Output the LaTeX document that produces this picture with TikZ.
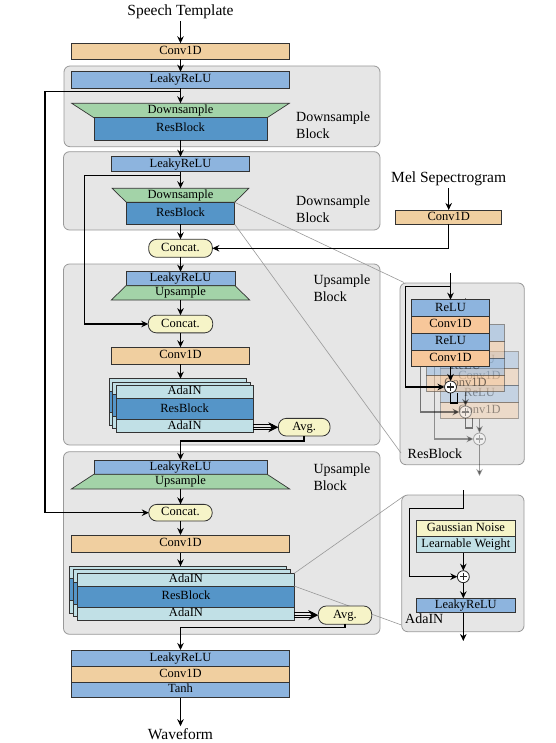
\documentclass[tikz,border=0pt]{standalone}
\usepackage{fontspec}
\setmainfont{Liberation Serif}
\usetikzlibrary{arrows.meta}
\usetikzlibrary{positioning}

\definecolor{convc}{RGB}{240,207,160}
\definecolor{relc}{RGB}{141,180,222}
\definecolor{sampc}{RGB}{163,211,168}
\definecolor{resc}{RGB}{85,149,200}
\definecolor{adac}{RGB}{193,224,230}
\definecolor{pillc}{RGB}{246,244,200}
\definecolor{panelc}{RGB}{230,230,230}
\definecolor{rconvc}{RGB}{247,199,154}

\tikzset{
  box/.style={draw=black!80,line width=0.7pt,inner sep=0pt,outer sep=0pt,text height=8.5pt,text depth=2.5pt,font=\fontsize{12.5}{14}\selectfont},
  colw/.style={minimum width=217.6pt},
  ada/.style={box,fill=adac,minimum height=12.5pt},
  resb/.style={box,fill=resc,minimum height=21.6pt},
  rbox/.style={box,minimum width=77.6pt,minimum height=16.75pt},
  samp/.style={draw=black!80,line width=0.7pt,fill=sampc},
  pill/.style={box,line width=0.8pt,fill=pillc,rounded corners=8pt},
  panel/.style={fill=panelc,draw=black!40,line width=0.8pt,rounded corners=6pt},
  zoomln/.style={draw=black!40,line width=0.6pt},
  arr/.style={line width=1.5pt,-{Stealth[length=7pt,width=6.5pt]}},
  link/.style={line width=1.5pt},
  tri/.style={line width=1.1pt},
  plus/.style={circle,draw=black!85,line width=0.8pt,fill=white,minimum size=12pt,inner sep=0pt,outer sep=0pt,
    path picture={\draw[line width=1.3pt] ([xshift=-3.6pt]path picture bounding box.center) -- ([xshift=3.6pt]path picture bounding box.center)
      ([yshift=-3.6pt]path picture bounding box.center) -- ([yshift=3.6pt]path picture bounding box.center);}},
  ttl/.style={font=\fontsize{15.5}{17}\selectfont,inner sep=2pt},
  blk/.style={font=\fontsize{14}{17}\selectfont,align=left,anchor=west,inner sep=0pt},
}

\begin{document}
\begin{tikzpicture}[x=1pt,y=-1pt]
\useasboundingbox (0,0) rectangle (555,743);

\draw[panel] (64,66) rectangle (380,146.7);
\draw[panel] (63.5,151.7) rectangle (380,230);
\draw[panel] (63.5,264) rectangle (380,445);
\draw[panel] (63.5,451.7) rectangle (380,634.3);
\draw[panel] (400,283) rectangle (524.3,464.7);
\draw[panel] (401.7,495) rectangle (524,631.7);

\node[ttl,anchor=base] (tmpl) at (180.5,16) {Speech Template};
\node[box,colw,fill=convc,minimum height=16pt] (conv0) at (180.5,51.3) {Conv1D};

\node[box,colw,fill=relc,minimum height=16.6pt] (lrelu1) at (180.5,80) {LeakyReLU};
\draw[samp] (71.7,103.3) -- (289.3,103.3) -- (267.15,117.7) -- (93.85,117.7) -- cycle;
\node[box,draw=none,minimum width=217.6pt,minimum height=14.4pt] (ds1) at (180.5,110.5) {Downsample};
\node[resb,minimum width=173.3pt,minimum height=22.3pt] (res1) at (180.5,128.85) {ResBlock};
\node[blk] (lab1) at (296,125.5) {Downsample\\Block};

\node[box,fill=relc,minimum width=137.6pt,minimum height=15pt] (lrelu2) at (180.5,164.2) {LeakyReLU};
\draw[samp] (112.2,188.3) -- (248.8,188.3) -- (234.65,202.3) -- (126.35,202.3) -- cycle;
\node[box,draw=none,minimum width=136.6pt,minimum height=14pt] (ds2) at (180.5,195.3) {Downsample};
\node[resb,minimum width=108.3pt,minimum height=22pt] (res2) at (180.5,213.3) {ResBlock};
\node[blk] (lab2) at (296,208.8) {Downsample\\Block};

\node[ttl,anchor=base] (mel) at (448.7,182.5) {Mel Sepectrogram};
\node[box,fill=convc,minimum width=106pt,minimum height=14pt] (melconv) at (448.7,217) {Conv1D};

\node[box,fill=relc,minimum width=109pt,minimum height=14pt] (lrelu3) at (180.5,278.7) {LeakyReLU};
\draw[samp] (126,285.7) -- (235,285.7) -- (249.65,300) -- (111.35,300) -- cycle;
\node[box,draw=none,minimum width=138.3pt,minimum height=14.3pt] (us1) at (180.5,292.85) {Upsample};
\node[blk] (lab3) at (313.3,288.3) {Upsample\\Block};
\node[box,fill=convc,minimum width=137.6pt,minimum height=17pt] (conv3) at (180.5,355.8) {Conv1D};

\node[ada,minimum width=137.3pt,anchor=north west] (bkA1) at (109.2,378.7) {};
\node[resb,minimum width=137.3pt,below=0pt of bkA1] (bkA2) {};
\node[ada,minimum width=137.3pt,below=0pt of bkA2] (bkA3) {};
\node[ada,minimum width=137.3pt,anchor=north west] (bkB1) at (112.6,382.2) {};
\node[resb,minimum width=137.3pt,below=0pt of bkB1] (bkB2) {};
\node[ada,minimum width=137.3pt,below=0pt of bkB2] (bkB3) {};
\node[ada,minimum width=137.3pt,anchor=north west] (ada3t) at (116,385.7) {AdaIN};
\node[resb,minimum width=137.3pt,below=0pt of ada3t] (res3) {ResBlock};
\node[ada,minimum width=137.3pt,below=0pt of res3] (ada3b) {AdaIN};

\node[box,fill=relc,minimum width=173.3pt,minimum height=14.3pt] (lrelu4) at (180.5,467.15) {LeakyReLU};
\draw[samp] (93.85,474.3) -- (267.15,474.3) -- (289.65,489) -- (71.35,489) -- cycle;
\node[box,draw=none,minimum width=218.3pt,minimum height=14.7pt] (us2) at (180.5,481.65) {Upsample};
\node[blk] (lab4) at (313.3,477.3) {Upsample\\Block};
\node[box,colw,fill=convc,minimum height=17.7pt] (conv4) at (180.5,543.85) {Conv1D};

\node[ada,minimum width=216.6pt,anchor=north west] (bkC1) at (69.3,566.3) {};
\node[resb,minimum width=216.6pt,below=0pt of bkC1] (bkC2) {};
\node[ada,minimum width=216.6pt,below=0pt of bkC2] (bkC3) {};
\node[ada,minimum width=216.6pt,anchor=north west] (bkD1) at (73.5,569.8) {};
\node[resb,minimum width=216.6pt,below=0pt of bkD1] (bkD2) {};
\node[ada,minimum width=216.6pt,below=0pt of bkD2] (bkD3) {};
\node[ada,minimum width=216.6pt,minimum height=12.8pt,anchor=north west] (ada4t) at (77.7,573.3) {AdaIN};
\node[resb,minimum width=216.6pt,below=0pt of ada4t] (res4) {ResBlock};
\node[ada,minimum width=216.6pt,below=0pt of res4] (ada4b) {AdaIN};

\node[box,colw,fill=relc,minimum height=16pt] (lrelu5) at (180.5,658) {LeakyReLU};
\node[box,colw,fill=convc,minimum height=16pt,below=0pt of lrelu5] (conv5) {Conv1D};
\node[box,colw,fill=relc,minimum height=15.7pt,below=0pt of conv5] (tanh) {Tanh};
\node[ttl,anchor=base] (wave) at (180.5,739.3) {Waveform};

\coordinate (zr1) at (404,282.5);
\coordinate (zr2) at (401,453);
\coordinate (za1) at (404,496);
\coordinate (za2) at (401.5,625);
\draw[zoomln] (res2.north east) -- (zr1);
\draw[zoomln] (res2.south east) -- (zr2);
\draw[zoomln] (ada4t.north east) -- (za1);
\draw[zoomln] (ada4t.south east) -- (za2);

\node[pill,minimum width=63.7pt,minimum height=18pt] (cat1) at (180.5,248.3) {Concat.};
\node[pill,minimum width=64.4pt,minimum height=17.7pt] (cat2) at (180.5,324) {Concat.};
\node[pill,minimum width=63.4pt,minimum height=16.7pt] (cat3) at (180.5,512.7) {Concat.};
\node[pill,minimum width=51.7pt,minimum height=17.7pt] (avg1) at (304.2,427.2) {Avg.};
\node[pill,minimum width=53.4pt,minimum height=18.3pt] (avg2) at (345,615.15) {Avg.};

\coordinate (br1) at (180.5,91.7);
\coordinate (sk1) at (45,91.7);
\coordinate (br2) at (180.5,175.7);
\coordinate (sk2) at (84.3,175.7);
\coordinate (j3) at (180.5,441);
\coordinate (j4) at (180.5,627.7);
\draw[arr] (tmpl.south) -- (conv0.north);
\draw[arr] (conv0.south) -- (lrelu1.north);
\draw[arr] (lrelu1.south) -- (ds1.north);
\draw[arr] (br1) -- (sk1) |- (cat3.west);
\draw[arr] (res1.south) -- (lrelu2.north);
\draw[arr] (lrelu2.south) -- (ds2.north);
\draw[arr] (br2) -- (sk2) |- (cat2.west);
\draw[arr] (res2.south) -- (cat1.north);
\draw[arr] (mel.south) -- (melconv.north);
\draw[arr] (melconv.south) |- (cat1.east);
\draw[arr] (cat1.south) -- (lrelu3.north);
\draw[arr] (us1.south) -- (cat2.north);
\draw[arr] (cat2.south) -- (conv3.north);
\draw[arr] (conv3.south) -- (conv3.south |- bkA1.north);
\draw[arr] (avg1.south) |- (j3) -- (lrelu4.north);
\draw[arr] (us2.south) -- (cat3.north);
\draw[arr] (cat3.south) -- (conv4.north);
\draw[arr] (conv4.south) -- (conv4.south |- bkC1.north);
\draw[arr] (avg2.south) |- (j4) -- (lrelu5.north);
\draw[arr] (tanh.south) -- (wave.north);

\coordinate (t3) at (ada3b.east |- avg1.west);
\draw[tri] ([yshift=2.4pt]t3) -- ([xshift=-5pt,yshift=2.4pt]avg1.west);
\draw[tri] ([yshift=-2.4pt]t3) -- ([xshift=-5pt,yshift=-2.4pt]avg1.west);
\draw[tri,-{Stealth[length=10pt,width=10pt]}] (t3) -- (avg1.west);
\coordinate (t4) at (ada4b.east |- avg2.west);
\draw[tri] ([yshift=2.4pt]t4) -- ([xshift=-5pt,yshift=2.4pt]avg2.west);
\draw[tri] ([yshift=-2.4pt]t4) -- ([xshift=-5pt,yshift=-2.4pt]avg2.west);
\draw[tri,-{Stealth[length=10pt,width=10pt]}] (t4) -- (avg2.west);

\begin{scope}[shift={(29,52)},opacity=0.38]
\node[rbox,fill=relc] (rC1) at (450.5,308.1) {ReLU};
\node[rbox,fill=rconvc,below=0pt of rC1] (rC2) {Conv1D};
\node[rbox,fill=relc,below=0pt of rC2] (rC3) {ReLU};
\node[rbox,fill=rconvc,below=0pt of rC3] (rC4) {Conv1D};
\node[plus] (pC) at (450.5,387) {};
\coordinate (inC) at (450.5,273);
\coordinate (skC) at (405.3,286.3);
\draw[arr] (inC) -- (rC1.north);
\draw[arr] (inC |- skC) -- (skC) |- (pC.west);
\draw[arr] (rC4.south) -- (pC.north);
\draw[arr] (pC.south) -- ++(0,31);
\end{scope}

\begin{scope}[shift={(15,25)},opacity=0.5]
\node[rbox,fill=relc] (rB1) at (450.5,308.1) {ReLU};
\node[rbox,fill=rconvc,below=0pt of rB1] (rB2) {Conv1D};
\node[rbox,fill=relc,below=0pt of rB2] (rB3) {ReLU};
\node[rbox,fill=rconvc,below=0pt of rB3] (rB4) {Conv1D};
\node[plus] (pB) at (450.5,387) {};
\coordinate (inB) at (450.5,273);
\coordinate (skB) at (405.3,286.3);
\draw[arr] (inB) -- (rB1.north);
\draw[arr] (inB |- skB) -- (skB) |- (pB.west);
\draw[arr] (rB4.south) -- (pB.north);
\draw[link] (pB.south) -- ++(0,10) -- ++(7,0) -- ++(0,-10);
\end{scope}

\node[rbox,fill=relc] (rA1) at (450.5,308.1) {ReLU};
\node[rbox,fill=rconvc,below=0pt of rA1] (rA2) {Conv1D};
\node[rbox,fill=relc,below=0pt of rA2] (rA3) {ReLU};
\node[rbox,fill=rconvc,below=0pt of rA3] (rA4) {Conv1D};
\node[plus] (pA) at (450.5,387) {};
\coordinate (inA) at (450.5,273);
\coordinate (skA) at (405.3,286.3);
\draw[arr] (inA) -- (rA1.north);
\draw[arr] (inA |- skA) -- (skA) |- (pA.west);
\draw[arr] (rA4.south) -- (pA.north);
\draw[link] (pA.south) -- ++(0,10) -- ++(7,0) -- ++(0,-10);
\node[blk] (lab5) at (407.5,454) {ResBlock};

\node[box,fill=pillc,minimum width=98.3pt,minimum height=16pt] (gauss) at (465.85,528) {Gaussian Noise};
\node[box,fill=adac,minimum width=98.3pt,minimum height=16.7pt,below=0pt of gauss] (learn) {Learnable Weight};
\node[plus] (pD) at (463.3,576.7) {};
\node[box,fill=relc,minimum width=98.3pt,minimum height=14.4pt] (alrelu) at (465.85,605.5) {LeakyReLU};
\coordinate (inD) at (463.3,490);
\coordinate (skD) at (409.3,508.5);
\coordinate (outD) at (463.3,641);
\draw[arr] (inD) |- (skD) |- (pD.west);
\draw[arr] (pD |- learn.south) -- (pD.north);
\draw[arr] (pD.south) -- (pD |- alrelu.north);
\draw[arr] (pD |- alrelu.south) -- (outD);
\node[blk] (lab6) at (405,618.5) {AdaIN};

\end{tikzpicture}
\end{document}
